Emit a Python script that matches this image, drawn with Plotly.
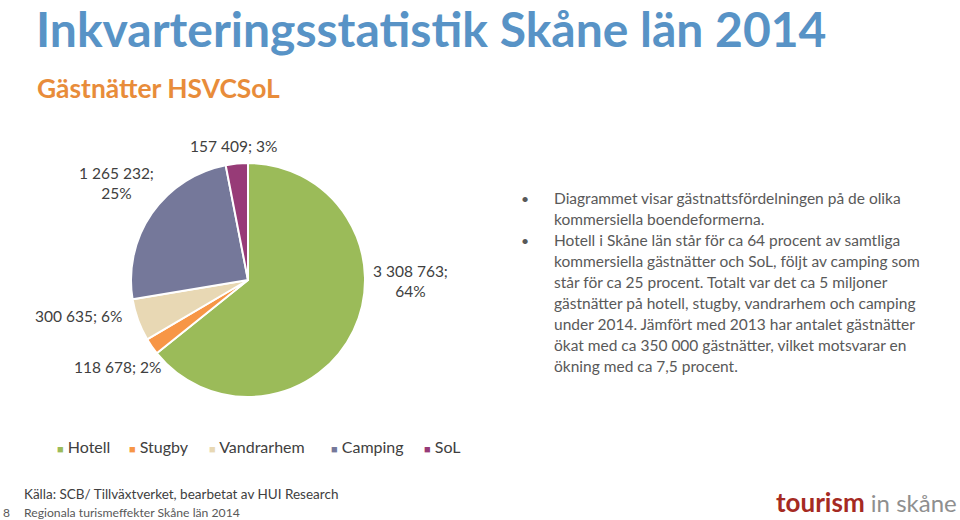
import plotly.graph_objects as go

categories = ["Hotell", "Stugby", "Vandrarhem", "Camping", "SoL"]
values = [3308763, 118678, 300635, 1265232, 157409]
percents = [64, 2, 6, 25, 3]
colors = ["#9BBB59", "#F79646", "#E8D8B4", "#75789A", "#973B77"]

title = "Inkvarteringsstatistik Skåne län 2014"
subtitle = "Gästnätter HSVCSoL"
bullets = [
    ["Diagrammet visar gästnattsfördelningen på de olika",
     "kommersiella boendeformerna."],
    ["Hotell i Skåne län står för ca 64 procent av samtliga",
     "kommersiella gästnätter och SoL, följt av camping som",
     "står för ca 25 procent. Totalt var det ca 5 miljoner",
     "gästnätter på hotell, stugby, vandrarhem och camping",
     "under 2014. Jämfört med 2013 har antalet gästnätter",
     "ökat med ca 350 000 gästnätter, vilket motsvarar en",
     "ökning med ca 7,5 procent."],
]
source = "Källa: SCB/ Tillväxtverket, bearbetat av HUI Research"
footer = "Regionala turismeffekter Skåne län 2014"
page = "8"

FONT = "Lato"
W, H = 960, 520


def fmt(v):
    return f"{v:,}".replace(",", " ")


fig = go.Figure()
fig.add_trace(go.Pie(
    labels=categories, values=values, sort=False, direction="clockwise",
    rotation=0, marker=dict(colors=colors, line=dict(color="white", width=2)),
    textinfo="none", hoverinfo="label+value+percent", showlegend=False,
    domain=dict(x=[131 / W, 365 / W], y=[(H - 397) / H, (H - 163) / H]),
))

ann = []
def px(x, y, text, size, color, xanchor="left", bold=False, **kw):
    if bold:
        text = f"<b>{text}</b>"
    ann.append(dict(x=x / W, y=1 - y / H, xref="paper", yref="paper", text=text,
                    showarrow=False, xanchor=xanchor, yanchor="middle",
                    font=dict(family=FONT, size=size, color=color), **kw))

px(34, 28, title, 48, "#5893C6", bold=True)
px(35, 88, subtitle, 26.4, "#E88C3A", bold=True)

# pie labels (positions per slice)
label_pos = {
    "Hotell": (410, 281, True),
    "Stugby": (117, 367, False),
    "Vandrarhem": (78, 316, False),
    "Camping": (116, 183, True),
    "SoL": (233, 146, False),
}
for c, v, p in zip(categories, values, percents):
    x, y, two = label_pos[c]
    sep = ";<br>" if two else "; "
    px(x, y, f"{fmt(v)}{sep}{p}%", 15.5, "#404040", xanchor="center", align="center")

# bullet text
y = 198
for para in bullets:
    px(519, y, "•", 14, "#595959")
    for line in para:
        px(552, y, line, 15.5, "#595959")
        y += 21

# legend (square marker + label per category)
legend_x = [55, 127, 207, 329, 422]
for lx, c, col in zip(legend_x, categories, colors):
    px(lx, 446, f"<span style='color:{col};font-size:11px'>■</span> {c}", 16, "#404040")

px(22, 494, source, 13.5, "#404040")
px(22, 512, footer, 12.2, "#595959")
px(1, 512, page, 12, "#595959")
ann.append(dict(x=1 - 1 / W, y=1 - 502 / H, xref="paper", yref="paper",
                text="<span style='color:#A52A22;font-size:26px'><b>tourism</b></span> in skåne",
                showarrow=False, xanchor="right", yanchor="middle",
                font=dict(family=FONT, size=24, color="#8F8F8F")))

fig.update_layout(
    width=W, height=H, margin=dict(l=0, r=0, t=0, b=0),
    paper_bgcolor="white", plot_bgcolor="white",
    annotations=ann,
    showlegend=False,
)
fig.write_html("out.html")
